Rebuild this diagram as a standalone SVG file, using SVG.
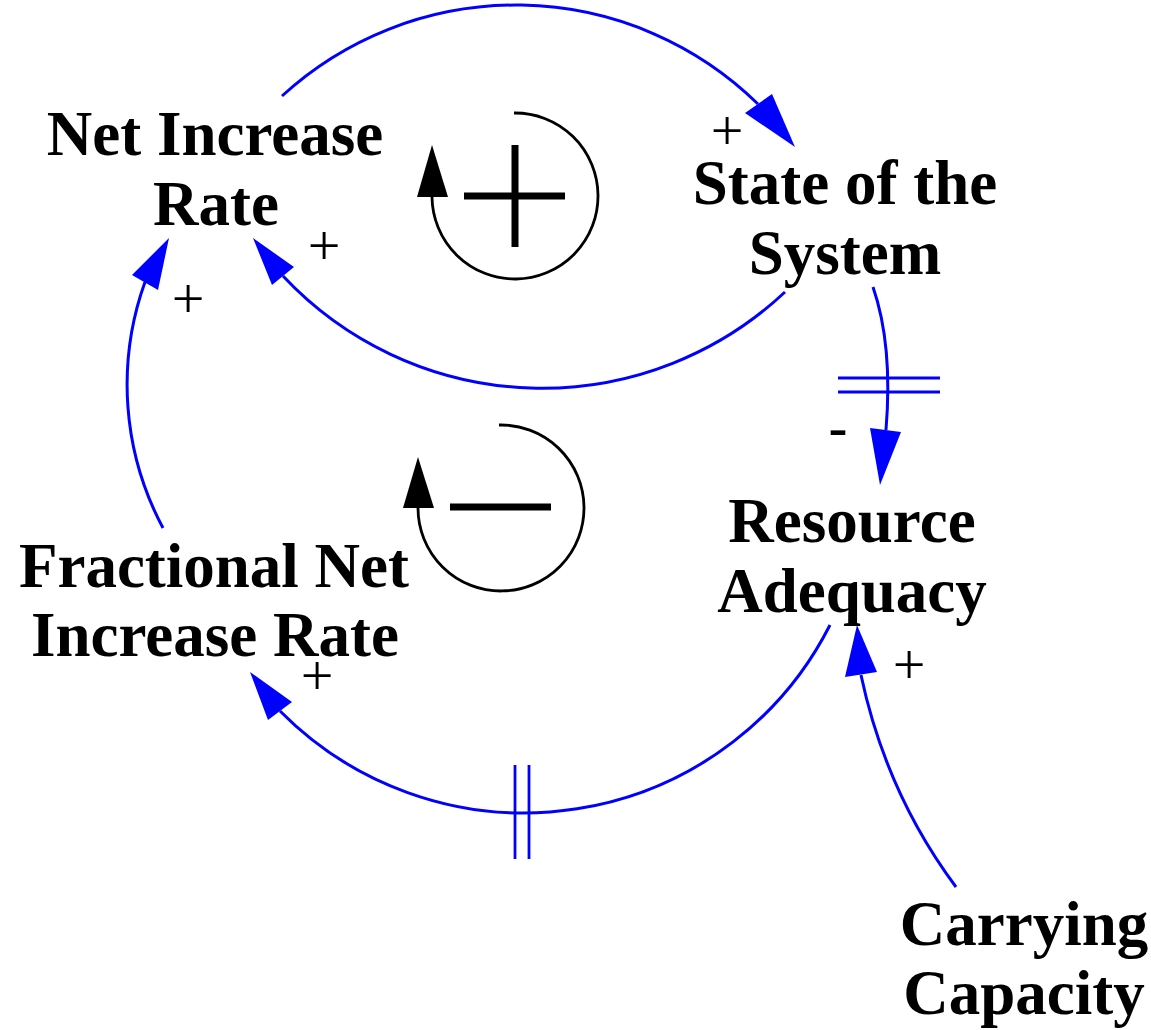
<svg xmlns="http://www.w3.org/2000/svg" width="1151" height="1030" viewBox="0 0 1151 1030">
<style>
.lbl{font-family:"Liberation Serif","Times New Roman",serif;font-weight:bold;font-size:63px;fill:#000;text-anchor:middle}
.pol{font-family:"Liberation Serif","Times New Roman",serif;font-size:58px;fill:#000;text-anchor:middle}
.neg{font-family:"Liberation Sans",Arial,sans-serif;font-size:60px;fill:#000;text-anchor:middle}
.link{fill:none;stroke:#0000FF;stroke-width:3}
.head{fill:#0000FF;stroke:none}
.delay{stroke:#0000FF;stroke-width:2.8;fill:none}
.loop{fill:none;stroke:#000;stroke-width:2.8}
.loophead{fill:#000}
.sign{stroke:#000;stroke-width:7;fill:none}
</style>
<rect width="1151" height="1030" fill="#fff"/>
<g id="connectors">
  <path class="link" d="M282,96 A346,346 0 0 1 758,104"/>
  <polygon class="head" points="795,147 745,113 772,94"/>
  <path class="link" d="M785,292 A355,355 0 0 1 283,276"/>
  <polygon class="head" points="253,238 272,285 294,267"/>
  <path class="link" d="M163,528 A304,304 0 0 1 145,282"/>
  <polygon class="head" points="169,238 132,275 158,290"/>
  <path class="link" d="M873,287 Q893,345 886,430"/>
  <polygon class="head" points="880,485 870,428 901,432"/>
  <line class="delay" x1="838" y1="378" x2="940" y2="378"/>
  <line class="delay" x1="838" y1="392" x2="940" y2="392"/>
  <path class="link" d="M830,625 A343,343 0 0 1 280,711"/>
  <polygon class="head" points="250,672 268,720 292,702"/>
  <line class="delay" x1="515" y1="765" x2="515" y2="859"/>
  <line class="delay" x1="529" y1="765" x2="529" y2="859"/>
  <path class="link" d="M956,887 Q886,793 861,675"/>
  <polygon class="head" points="857,625 845,677 877,672"/>
  <text class="pol" x="727" y="150">+</text>
  <text class="pol" x="324" y="265">+</text>
  <text class="pol" x="188" y="318">+</text>
  <text class="pol" x="317" y="695">+</text>
  <text class="pol" x="909" y="684">+</text>
  <text class="neg" x="838" y="448">-</text>
</g>
<g id="loop-positive">
  <path class="loop" d="M514,113 A83,83 0 1 1 432,197"/>
  <polygon class="loophead" points="432,145 417,197 448,197"/>
  <line class="sign" x1="464" y1="196" x2="565" y2="196"/>
  <line class="sign" x1="515" y1="145" x2="515" y2="247"/>
</g>
<g id="loop-negative">
  <path class="loop" d="M499,425 A83,83 0 1 1 418,508"/>
  <polygon class="loophead" points="418,457 403,508 434,508"/>
  <line class="sign" x1="450" y1="507" x2="551" y2="507"/>
</g>
<g id="node-net-increase-rate">
  <text class="lbl" x="215" y="155">Net Increase</text>
  <text class="lbl" x="216" y="225">Rate</text>
</g>
<g id="node-state-of-the-system">
  <text class="lbl" x="845" y="204">State of the</text>
  <text class="lbl" x="845" y="274">System</text>
</g>
<g id="node-resource-adequacy">
  <text class="lbl" x="852" y="542">Resource</text>
  <text class="lbl" x="852" y="612">Adequacy</text>
</g>
<g id="node-fractional-net-increase-rate">
  <text class="lbl" x="214" y="587">Fractional Net</text>
  <text class="lbl" x="215" y="656">Increase Rate</text>
</g>
<g id="node-carrying-capacity">
  <text class="lbl" x="1024" y="945">Carrying</text>
  <text class="lbl" x="1024" y="1014">Capacity</text>
</g>
</svg>
